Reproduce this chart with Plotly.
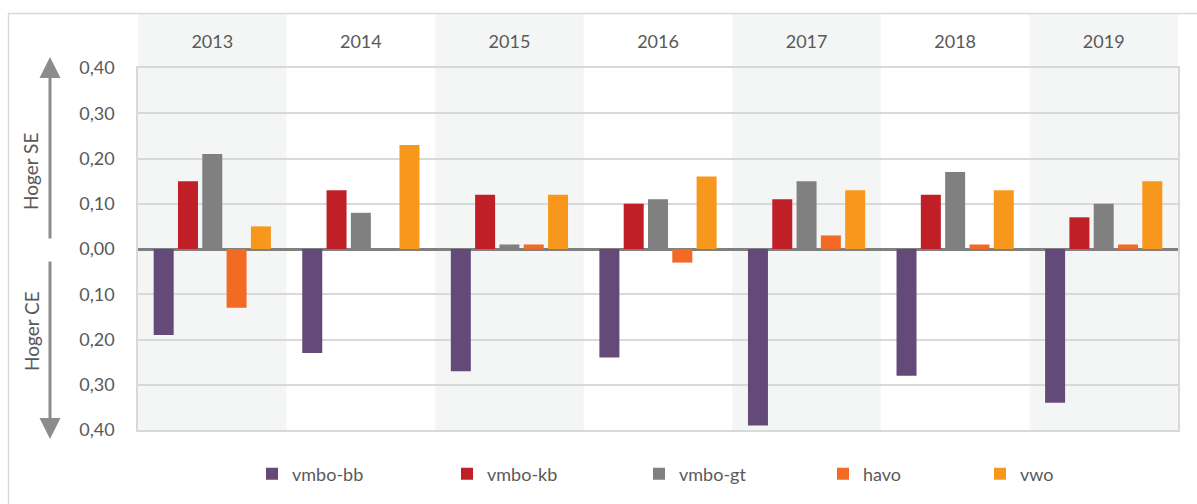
import plotly.graph_objects as go

years = ["2013", "2014", "2015", "2016", "2017", "2018", "2019"]
series_names = ["vmbo-bb", "vmbo-kb", "vmbo-gt", "havo", "vwo"]
vmbo_bb = [-0.19, -0.23, -0.27, -0.24, -0.39, -0.28, -0.34]
vmbo_kb = [0.15, 0.13, 0.12, 0.10, 0.11, 0.12, 0.07]
vmbo_gt = [0.21, 0.08, 0.01, 0.11, 0.15, 0.17, 0.10]
havo = [-0.13, 0.00, 0.01, -0.03, 0.03, 0.01, 0.01]
vwo = [0.05, 0.23, 0.12, 0.16, 0.13, 0.13, 0.15]
colors = ["#644A78", "#C01F27", "#808080", "#F26A24", "#F7981D"]
tick_vals = [0.4, 0.3, 0.2, 0.1, 0.0, -0.1, -0.2, -0.3, -0.4]
tick_text = ["0,40", "0,30", "0,20", "0,10", "0,00", "0,10", "0,20", "0,30", "0,40"]

W, H = 1197, 504
L, R, T, B = 138, 1178, 68, 430
pw, ph = R - L, B - T

def px(x):
    return (x - L) / pw

def py(y):
    return (B - y) / ph

FONT = "Lato"
TXT = "#595959"

fig = go.Figure()
all_vals = [vmbo_bb, vmbo_kb, vmbo_gt, havo, vwo]
leg_w = [150, 147, 139, 112, 60]
for name, vals, c, lw in zip(series_names, all_vals, colors, leg_w):
    fig.add_trace(go.Bar(x=years, y=vals, name=name, marker=dict(color=c, line=dict(width=0)),
                         legendwidth=lw, hoverinfo="x+y+name"))

shapes = []
n = len(years)
for i in range(n):
    if i % 2 == 0:
        shapes.append(dict(type="rect", xref="paper", yref="paper", x0=i / n, x1=(i + 1) / n,
                           y0=0, y1=py(14), fillcolor="#F4F6F5", line=dict(width=0), layer="below"))
# outer border
shapes.append(dict(type="line", xref="paper", yref="paper", x0=px(8), x1=px(1200), y0=py(13.5), y1=py(13.5),
                   line=dict(color="#D9D9D9", width=1.5)))
shapes.append(dict(type="line", xref="paper", yref="paper", x0=px(8.5), x1=px(8.5), y0=py(13.5), y1=py(520),
                   line=dict(color="#D9D9D9", width=1.5)))

annotations = [
    dict(xref="paper", yref="paper", x=px(50), y=py(57), ax=0, ay=183, axref="pixel", ayref="pixel",
         showarrow=True, arrowhead=2, arrowsize=1.4, arrowwidth=3, arrowcolor="#8C8C8C", text=""),
    dict(xref="paper", yref="paper", x=px(50), y=py(439), ax=0, ay=-179, axref="pixel", ayref="pixel",
         showarrow=True, arrowhead=2, arrowsize=1.4, arrowwidth=3, arrowcolor="#8C8C8C", text=""),
    dict(xref="paper", yref="paper", x=px(30), y=py(172), text="Hoger SE", showarrow=False, textangle=-90,
         xanchor="center", yanchor="middle", font=dict(family=FONT, size=19, color=TXT)),
    dict(xref="paper", yref="paper", x=px(31), y=py(331), text="Hoger CE", showarrow=False, textangle=-90,
         xanchor="center", yanchor="middle", font=dict(family=FONT, size=19, color=TXT)),
]

fig.update_layout(
    width=W, height=H,
    margin=dict(l=L, r=W - R, t=T, b=H - B, pad=0, autoexpand=False),
    paper_bgcolor="white", plot_bgcolor="rgba(0,0,0,0)",
    barmode="group", bargap=0.182, bargroupgap=0.177,
    font=dict(family=FONT, size=18, color=TXT),
    shapes=shapes, annotations=annotations,
    showlegend=True,
    legend=dict(orientation="h", x=px(252), xanchor="left", y=py(474), yanchor="middle",
                font=dict(family=FONT, size=18, color=TXT), bgcolor="rgba(0,0,0,0)",
                itemclick=False, itemdoubleclick=False),
    xaxis=dict(side="top", showgrid=False, showline=True, mirror=True, linecolor="#D9D9D9", linewidth=1.5,
               ticks="", ticklabelstandoff=11, tickfont=dict(family=FONT, size=18, color=TXT),
               fixedrange=True),
    yaxis=dict(range=[-0.4, 0.4], tickvals=tick_vals, ticktext=tick_text, showgrid=True,
               gridcolor="#D9D9D9", gridwidth=1.5, zeroline=True, zerolinecolor="#808080", zerolinewidth=3,
               showline=True, mirror=True, linecolor="#D9D9D9", linewidth=1.5, ticks="",
               ticklabelstandoff=18, tickfont=dict(family=FONT, size=18, color=TXT), fixedrange=True),
)

fig.write_html("out.html", config={"displayModeBar": False},
               post_script="document.body.style.margin='0';")
